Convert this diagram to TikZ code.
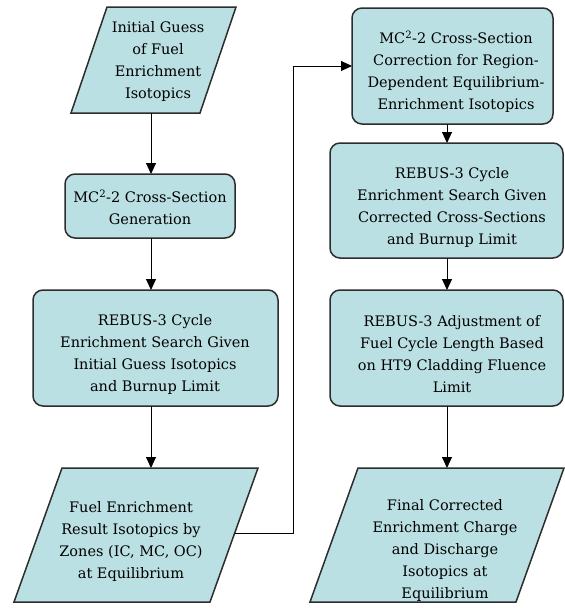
\documentclass[tikz,border=0pt]{standalone}
\usepackage{fontspec}
\setmainfont{DejaVu Serif}
\usetikzlibrary{arrows.meta,calc}
\definecolor{boxfill}{RGB}{187,224,227}
\definecolor{boxline}{RGB}{45,45,45}
\begin{document}
\begin{tikzpicture}[x=1pt,y=-1pt,
  rbox/.style={draw=boxline, line width=1.5pt, fill=boxfill, rounded corners=10pt, inner sep=0pt, outer sep=0pt},
  pbox/.style={draw=boxline, line width=1.5pt, fill=boxfill, line join=miter},
  hold/.style={inner sep=0pt, outer sep=0pt},
  txt/.style={align=center, font=\rmfamily\fontsize{14.5}{22}\selectfont, inner sep=0pt},
  flow/.style={line width=1pt, draw=black, -{Triangle[length=11pt,width=10pt]}}]
\useasboundingbox (0,0) rectangle (565,608);
\coordinate (colL) at (151,0);
\coordinate (colR) at (447,0);

% parallelogram 1
\draw[pbox] (107,7) -- (236,7) -- (200,113) -- (71,113) -- cycle;
\node[hold, minimum width=129pt, minimum height=106pt] (b1) at (153.5,60) {};
\node[txt] (t1) at (158,61) {Initial Guess\\of Fuel\\Enrichment\\Isotopics};

% box 2
\node[rbox, minimum width=170pt, minimum height=64pt] (b2) at (150,206) {};
\node[txt] (t2) at (150,207) {MC\textsuperscript{2}-2 Cross-Section\\Generation};

% box 3
\node[rbox, minimum width=245pt, minimum height=116pt] (b3) at (155.5,348) {};
\node[txt] (t3) at (155,354) {REBUS-3 Cycle\\Enrichment Search Given\\Initial Guess Isotopics\\and Burnup Limit};

% parallelogram 4
\draw[pbox] (62,468) -- (258,468) -- (210,602) -- (14,602) -- cycle;
\node[hold, minimum width=196pt, minimum height=134pt] (b4) at (136,535) {};
\node[txt] (t4) at (131,541) {Fuel Enrichment\\Result Isotopics by\\Zones (IC, MC, OC)\\at Equilibrium};

% box 5
\node[rbox, minimum width=201pt, minimum height=116pt] (b5) at (452.5,66) {};
\node[txt] (t5) at (456,72) {MC\textsuperscript{2}-2 Cross-Section\\Correction for Region-\\Dependent Equilibrium-\\Enrichment Isotopics};

% box 6
\node[rbox, minimum width=233pt, minimum height=115pt] (b6) at (446.5,200.5) {};
\node[txt] (t6) at (452,207) {REBUS-3 Cycle\\Enrichment Search Given\\Corrected Cross-Sections\\and Burnup Limit};

% box 7
\node[rbox, minimum width=233pt, minimum height=116pt] (b7) at (446.5,348) {};
\node[txt] (t7) at (452,354) {REBUS-3 Adjustment of\\Fuel Cycle Length Based\\on HT9 Cladding Fluence\\Limit};

% parallelogram 8
\draw[pbox] (358,468) -- (564,468) -- (516,602) -- (310,602) -- cycle;
\node[hold, minimum width=206pt, minimum height=134pt] (b8) at (437,535) {};
\node[txt] (t8) at (445,550) {Final Corrected\\Enrichment Charge\\and Discharge\\Isotopics at\\Equilibrium};

% connectors
\draw[flow] (b1.south -| colL) -- (b2.north -| colL);
\draw[flow] (b2.south -| colL) -- (b3.north -| colL);
\draw[flow] (b3.south -| colL) -- (b4.north -| colL);
\draw[flow] (b5.south -| colR) -- (b6.north -| colR);
\draw[flow] (b6.south -| colR) -- (b7.north -| colR);
\draw[flow] (b7.south -| colR) -- (b8.north -| colR);
\coordinate (out4) at (234.7,533);
\coordinate (turn) at (293,533);
\draw[flow] (out4) -- (turn) |- (b5.west);
\end{tikzpicture}
\end{document}
